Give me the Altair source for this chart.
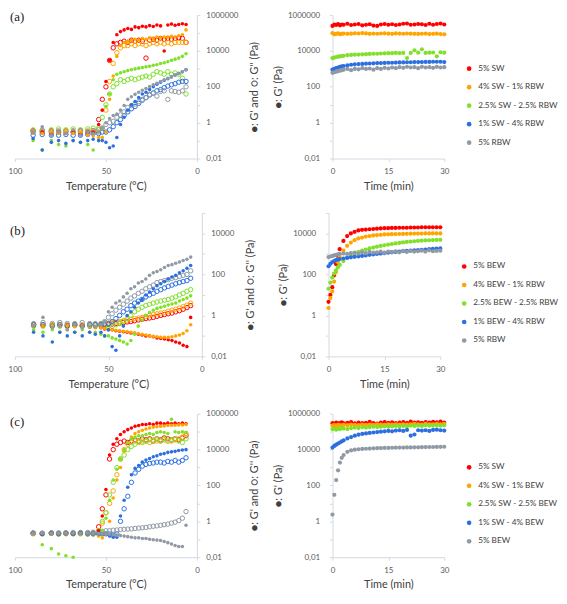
import altair as alt
import pandas as pd

# ---------------- shared grids ----------------
T_LEFT = [90, 85, 80, 76, 72, 68, 64, 60, 57, 54, 52, 50, 48, 46, 44, 42, 40, 38, 36,
          34, 32, 30, 28, 26, 24, 22, 20, 18, 16, 14, 12, 10, 8, 6]
TIME = [0, 0.5, 1, 1.5, 2, 2.5, 3, 4, 5, 6, 7, 8, 9, 10, 11, 12, 13, 14, 15, 16, 17, 18,
        19, 20, 21, 22, 23, 24, 25, 26, 27, 28, 29, 30]

COLORS = ["#ff0000", "#ffa500", "#80e02a", "#2c6fe0", "#8f9aa5"]
LAB_A = ["5% SW", "4% SW - 1% RBW", "2.5% SW - 2.5% RBW", "1% SW - 4% RBW", "5% RBW"]
LAB_B = ["5% BEW", "4% BEW - 1% RBW", "2.5% BEW - 2.5% RBW", "1% BEW - 4% RBW", "5% RBW"]
LAB_C = ["5% SW", "4% SW - 1% BEW", "2.5% SW - 2.5% BEW", "1% SW - 4% BEW", "5% BEW"]

# ---------------- panel (a), temperature sweep: G' (filled) and G'' (open), Pa ----------------
A_SW_G1 = [0.3, 0.3, 0.25, 0.3, 0.25, 0.3, 0.25, 0.3, 0.3,
           0.8, 5, 200, 3000, 3e4, 8e4, 1.2e5, 1.5e5, 1.8e5, 1.6e5, 2.2e5, 2e5, 2.4e5, 2.2e5,
           2.6e5, 2.3e5, 2.8e5, 2.5e5, 1e4, 2.8e5, 3.2e5, 2.7e5, 3e5, 3.3e5, 3e5]
A_SW_G2 = [0.35, 0.3, 0.35, 0.3, 0.35, 0.3, 0.35, 0.3, 0.35,
           1.5, 20, 100, 3000, 1.5e4, 2.5e4, 3e4, 3.5e4, 3e4, 4e4, 3.5e4, 4e4, 3.5e4, 4e3,
           4e4, 4.5e4, 4e4, 5e4, 4.5e4, 5e4, 4.5e4, 5e4, 5.5e4, 5e4, 3e4]
A_M1_G1 = [0.3, 0.25, 0.3, 0.25, 0.3, 0.25, 0.3, 0.2, 0.18,
           0.15, 0.15, 0.3, 20, 400, 5000, 2e4, 3e4, 3.5e4, 4e4, 4.5e4, 4e4, 5e4, 4.5e4,
           5.5e4, 5e4, 6e4, 5.5e4, 6e4, 6e4, 6.5e4, 6e4, 7e4, 8e4, 1.5e5]
A_M1_G2 = [0.3, 0.35, 0.3, 0.3, 0.35, 0.3, 0.3, 0.35, 0.3,
           0.3, 0.5, 5, 200, 2000, 8000, 1.5e4, 2e4, 2e4, 2.5e4, 2e4, 2.5e4, 2.5e4, 2e4,
           2.5e4, 3e4, 2.5e4, 3e4, 2.5e4, 3e4, 2.5e4, 3e4, 3e4, 3e4, 3e4]
A_M2_G1 = [0.1, 0.03, 0.1, 0.06, 0.05, 0.1, 0.08, 0.06, 0.03,
           0.1, 0.5, 8, 40, 250, 500, 600, 700, 800, 900, 1000, 1100, 1200, 1300, 1400,
           1600, 1700, 2000, 2200, 2500, 3000, 3500, 4000, 5000, 7000]
A_M2_G2 = [0.4, 0.4, 0.4, 0.45, 0.4, 0.45, 0.4, 0.45, 0.5,
           0.5, 2, 10, 40, 100, 150, 250, 200, 250, 300, 250, 300, 350, 400, 350, 500,
           700, 600, 500, 700, 500, 600, 500, 300, 40]
A_M3_G1 = [0.13, 0.03, 0.08, 0.1, 0.07, 0.1, 0.08, 0.1, 0.12,
           0.1, 0.1, 0.08, 0.04, 0.05, 0.15, 0.8, 2, 5, 10, 15, 25, 40, 50, 70, 100,
           140, 180, 230, 280, 350, 450, 550, 700, 900]
A_M3_G2 = [0.2, 0.22, 0.2, 0.2, 0.22, 0.2, 0.2, 0.22, 0.25,
           0.25, 0.3, 0.3, 0.4, 0.6, 1, 1.5, 2.5, 4, 6, 8, 12, 18, 25, 35, 45, 60, 70,
           90, 110, 130, 150, 180, 200, 200]
A_RB_G1 = [0.3, 0.6, 0.2, 0.3, 0.25, 0.4, 0.2, 0.3, 0.25,
           0.3, 0.5, 1, 1.7, 2.5, 3, 5, 9, 20, 28, 38, 50, 65, 80, 105, 130, 160, 200,
           250, 300, 370, 450, 550, 700, 900]
A_RB_G2 = [0.3, 0.35, 0.3, 0.35, 0.3, 0.3, 0.35, 0.3, 0.35,
           0.4, 0.5, 0.8, 1, 1.2, 2, 2.7, 4, 7, 9, 11, 15, 20, 25, 38, 45, 30, 55, 60,
           20, 60, 55, 50, 60, 100]

# ---------------- panel (b) ----------------
B_BE_G1 = [0.3, 0.3, 0.28, 0.3, 0.27, 0.3, 0.28, 0.27, 0.26,
           0.25, 0.22, 0.2, 0.2, 0.18, 0.17, 0.16, 0.15, 0.14, 0.13, 0.12, 0.11, 0.1,
           0.1, 0.09, 0.08, 0.075, 0.07, 0.065, 0.06, 0.05, 0.045, 0.035, 0.03, 0.8]
B_BE_G2 = [0.35, 0.35, 0.33, 0.35, 0.33, 0.35, 0.33, 0.35, 0.35,
           0.35, 0.36, 0.37, 0.38, 0.4, 0.42, 0.45, 0.48, 0.5, 0.55, 0.6, 0.65, 0.7,
           0.75, 0.8, 0.9, 1, 1.1, 1.2, 1.3, 1.5, 1.7, 2, 2.4, 3]
B_M1_G1 = [0.3, 0.3, 0.3, 0.28, 0.3, 0.28, 0.27, 0.27, 0.26,
           0.25, 0.23, 0.21, 0.2, 0.19, 0.18, 0.17, 0.16, 0.15, 0.14, 0.13, 0.12, 0.11,
           0.1, 0.095, 0.09, 0.085, 0.085, 0.085, 0.09, 0.1, 0.11, 0.13, 0.18, 0.35]
B_M1_G2 = [0.35, 0.36, 0.35, 0.36, 0.35, 0.36, 0.35, 0.36, 0.37,
           0.38, 0.4, 0.42, 0.44, 0.47, 0.5, 0.55, 0.6, 0.65, 0.7, 0.75, 0.8, 0.9, 1,
           1.1, 1.2, 1.3, 1.4, 1.6, 1.8, 2, 2.3, 2.7, 3.2, 4]
B_M2_G1 = [0.2, 0.15, 0.2, 0.15, 0.2, 0.15, 0.2, 0.15, 0.15,
           0.12, 0.1, 0.1, 0.08, 0.07, 0.06, 0.05, 0.04, 0.06, 0.12, 0.3, 0.6, 1, 1.4,
           1.8, 2.2, 2.5, 2.8, 3.2, 3.6, 4, 5, 6, 7, 9]
B_M2_G2 = [0.3, 0.3, 0.32, 0.3, 0.3, 0.32, 0.3, 0.3, 0.3,
           0.3, 0.3, 0.3, 0.3, 0.35, 0.4, 0.5, 0.7, 1, 1.5, 2, 2.5, 3, 3.5, 4, 4.5, 5,
           5.5, 6, 7, 8, 10, 12, 15, 18]
B_M3_G1 = [0.15, 0.1, 0.05, 0.15, 0.1, 0.15, 0.1, 0.15, 0.12,
           0.15, 0.1, 0.2, 0.03, 0.02, 0.1, 0.3, 1, 1.5, 2.5, 4, 6, 10, 14, 20, 28, 35,
           45, 60, 75, 90, 120, 150, 200, 270]
B_M3_G2 = [0.35, 0.35, 0.3, 0.35, 0.3, 0.35, 0.3, 0.35, 0.35,
           0.35, 0.38, 0.4, 0.5, 0.7, 1, 1.5, 2, 3, 4, 5, 6, 8, 10, 12, 15, 18, 22, 26,
           30, 35, 40, 45, 50, 65]
B_RB_G1 = [0.3, 0.8, 0.25, 0.3, 0.2, 0.35, 0.25, 0.3, 0.28,
           0.35, 0.5, 1.5, 2.5, 4, 5, 8, 12, 20, 25, 38, 45, 60, 90, 120, 140, 170, 220,
           270, 300, 350, 400, 480, 550, 700]
B_RB_G2 = [0.4, 0.45, 0.4, 0.45, 0.4, 0.4, 0.45, 0.4, 0.4,
           0.4, 0.5, 0.8, 1.2, 1.8, 2.5, 3.5, 5, 7, 9, 12, 15, 20, 25, 30, 40, 45, 50,
           55, 65, 70, 80, 90, 100, 150]

# ---------------- panel (c) ----------------
C_SW_G1 = [0.22, 0.2, 0.22, 0.21, 0.22, 0.2, 0.22, 0.21, 0.22,
           0.3, 2, 60, 5000, 2e4, 4e4, 7e4, 1e5, 1.3e5, 1.6e5, 2e5, 2.2e5, 2.5e5, 2.5e5,
           2.8e5, 2.5e5, 3e5, 3e5, 2.8e5, 3e5, 2.8e5, 3e5, 2.8e5, 3e5, 2.8e5]
C_SW_G2 = [0.22, 0.21, 0.22, 0.2, 0.22, 0.21, 0.22, 0.2, 0.22,
           0.5, 5, 30, 3000, 1e4, 2e4, 2.5e4, 3e4, 2.5e4, 3e4, 3.5e4, 3e4, 4e4, 3.5e4,
           4e4, 3e4, 4e4, 3.5e4, 4.5e4, 4e4, 3.5e4, 4e4, 3.5e4, 4.5e4, 6e4]
C_M1_G1 = [0.2, 0.21, 0.2, 0.2, 0.21, 0.2, 0.2, 0.19, 0.18,
           0.15, 0.12, 0.2, 1, 20, 200, 1000, 8000, 2.5e4, 5e4, 8e4, 1e5, 1.2e5, 1.4e5,
           1.6e5, 1.8e5, 1.9e5, 2e5, 2.1e5, 2.2e5, 2.3e5, 2.3e5, 2.4e5, 2.4e5, 2.5e5]
C_M1_G2 = [0.2, 0.2, 0.21, 0.2, 0.2, 0.21, 0.2, 0.2, 0.2,
           0.3, 0.8, 3, 10, 50, 400, 3000, 1e4, 2e4, 2.5e4, 3e4, 2.5e4, 3e4, 3e4, 2.5e4,
           3.5e4, 3e4, 3e4, 3.5e4, 3e4, 3e4, 3.5e4, 4e4, 5e4, 8e4]
C_M2_G1 = [0.22, 0.05, 0.03, 0.015, 0.012, 0.01, 0.2, 0.2, 0.2,
           0.2, 0.3, 1.5, 15, 200, 800, 3000, 1e4, 2.5e4, 4e4, 5e4, 6e4, 6e4, 7e4, 8e4,
           7e4, 9e4, 1e5, 9e4, 8e4, 5e5, 1e5, 9e4, 1e5, 9e4]
C_M2_G2 = [0.22, 0.2, 0.22, 0.2, 0.22, 0.2, 0.22, 0.2, 0.22,
           0.3, 1, 3, 30, 150, 1000, 3000, 5000, 1e4, 1.5e4, 2e4, 3e4, 2.5e4, 3e4, 3.5e4,
           3e4, 4e4, 3e4, 4e4, 3e4, 3.5e4, 4e4, 3e4, 2.5e4, 4e4]
C_M3_G1 = [0.22, 0.2, 0.22, 0.2, 0.21, 0.2, 0.22, 0.2, 0.2,
           0.2, 0.2, 0.2, 0.15, 0.13, 0.13, 2, 15, 80, 400, 900, 1300, 2000, 2600, 3200,
           4000, 4500, 5500, 6000, 7000, 7500, 8000, 9000, 9500, 1e4]
C_M3_G2 = [0.22, 0.21, 0.22, 0.21, 0.22, 0.21, 0.22, 0.21, 0.2,
           0.2, 0.2, 0.2, 0.2, 0.18, 0.2, 1, 5, 25, 150, 500, 800, 1200, 1500, 1700,
           1800, 2000, 2000, 1800, 2200, 2000, 2500, 2000, 2500, 3500]
C_BE_G1 = [0.22, 0.22, 0.22, 0.22, 0.22, 0.22, 0.22, 0.22, 0.22,
           0.21, 0.2, 0.2, 0.19, 0.18, 0.17, 0.16, 0.15, 0.14, 0.13, 0.12, 0.12, 0.11,
           0.11, 0.1, 0.095, 0.09, 0.085, 0.075, 0.065, 0.055, 0.045, 0.04, 0.04, 0.6]
C_BE_G2 = [0.22, 0.22, 0.23, 0.23, 0.23, 0.24, 0.24, 0.24, 0.25,
           0.27, 0.28, 0.3, 0.3, 0.32, 0.33, 0.35, 0.36, 0.37, 0.38, 0.4, 0.42, 0.44,
           0.46, 0.5, 0.53, 0.56, 0.6, 0.65, 0.7, 0.8, 0.9, 1.1, 1.5, 3.5]

# ---------------- time sweeps: G' (Pa) ----------------
TA_SW = [2.5e5, 3e5, 2.8e5, 3.2e5, 2.7e5, 3e5, 2.9e5, 3.3e5, 2.8e5, 3e5, 3.2e5, 2.7e5,
         2.9e5, 3.1e5, 2.6e5, 2.5e5, 3e5, 3.2e5, 2.9e5, 3.1e5, 2.8e5, 3e5, 3.3e5, 3.4e5,
         2.9e5, 3e5, 3.2e5, 3.1e5, 2.8e5, 3.3e5, 2.9e5, 3.2e5, 3.4e5, 3e5]
TA_M1 = [1e5, 8.5e4, 9e4, 9.5e4, 8.8e4, 9e4, 9.3e4, 9e4, 9.2e4, 9.6e4, 9.4e4, 1e5, 9.5e4,
         9e4, 9.3e4, 9.1e4, 9.4e4, 9.6e4, 9.2e4, 9e4, 9.5e4, 9.3e4, 9.1e4, 9.4e4, 9.2e4,
         9e4, 8.9e4, 9.1e4, 9.3e4, 8.8e4, 9e4, 9.2e4, 8.8e4, 8.5e4]
TA_M2 = [4000, 4300, 4600, 4800, 5000, 5200, 5400, 5800, 6000, 6200, 6300, 6500, 6600,
         6800, 7000, 7000, 7200, 7400, 7500, 7500, 7800, 7600, 7800, 4000, 7800, 1.1e4,
         8000, 1.25e4, 7800, 8000, 8200, 5000, 8500, 8000]
TA_M3 = [900, 1000, 1100, 1200, 1300, 1400, 1450, 1600, 1700, 1800, 1850, 1900, 1950,
         2000, 2050, 2100, 2100, 2150, 2200, 2200, 2250, 2300, 2300, 2350, 2350, 2400,
         2400, 2400, 2450, 2450, 2500, 2500, 2500, 2400]
TA_RB = [600, 650, 700, 750, 800, 850, 900, 1000, 850, 1000, 950, 1100, 1000, 1050, 900,
         1100, 1000, 1150, 1050, 1200, 1100, 1250, 1150, 1300, 1200, 1250, 1100, 1300,
         1200, 1250, 1150, 1300, 1200, 1250]

TB_BE = [4.6, 10, 24, 90, 320, 800, 1700, 4300, 7400, 1e4, 1.2e4, 1.4e4, 1.5e4, 1.55e4,
         1.6e4, 1.65e4, 1.7e4, 1.75e4, 1.8e4, 1.8e4, 1.85e4, 1.85e4, 1.9e4, 1.9e4, 1.9e4,
         1.95e4, 1.95e4, 1.95e4, 2e4, 2e4, 2e4, 2e4, 2e4, 2e4]
TB_M1 = [2.3, 7, 15, 45, 130, 400, 700, 1450, 2500, 3600, 4700, 5700, 6300, 7000, 7400,
         8000, 8300, 8600, 9000, 9100, 9200, 9300, 9400, 9500, 9600, 9700, 9800, 9800,
         9900, 1e4, 1e4, 1e4, 1e4, 1e4]
TB_M2 = [20, 40, 70, 110, 160, 220, 290, 450, 650, 850, 1050, 1250, 1450, 1650, 1850,
         2050, 2250, 2450, 2650, 2850, 3050, 3250, 3450, 3650, 3850, 4000, 4150, 4300,
         4450, 4550, 4650, 4750, 4850, 4900]
TB_M3 = [250, 330, 400, 450, 500, 530, 560, 600, 640, 680, 720, 760, 800, 850, 900, 950,
         1000, 1050, 1100, 1150, 1200, 1250, 1300, 1350, 1400, 1450, 1500, 1550, 1600,
         1650, 1700, 1750, 1800, 1850]
TB_RB = [700, 750, 800, 850, 900, 950, 1000, 1050, 1000, 1100, 1150, 1050, 1200, 1100,
         1250, 1150, 1200, 1300, 1150, 1300, 1250, 1350, 1200, 1400, 1250, 1400, 1300,
         1350, 1450, 1300, 1500, 1350, 1400, 1450]

TC_SW = [3e5, 2.7e5, 3.2e5, 2.8e5, 3e5, 3.3e5, 2.9e5, 3.1e5, 3.4e5, 2.9e5, 3.2e5, 3e5,
         3.1e5, 3.5e5, 3e5, 2.8e5, 3.2e5, 3.4e5, 3.1e5, 3.3e5, 3e5, 3.2e5, 3.4e5, 3.1e5,
         3.6e5, 3.2e5, 3.3e5, 3.1e5, 3.4e5, 3.2e5, 3.5e5, 3.3e5, 3.7e5, 3.2e5]
TC_M1 = [2.2e5, 2.3e5, 2.2e5, 2.4e5, 2.3e5, 2.2e5, 2.4e5, 2.3e5, 2.5e5, 2.4e5, 2.3e5,
         2.5e5, 2.4e5, 2.5e5, 2.4e5, 2.6e5, 2.5e5, 2.4e5, 2.6e5, 2.5e5, 2.6e5, 2.5e5,
         2.6e5, 2.5e5, 2.6e5, 2.7e5, 2.6e5, 2.5e5, 2.7e5, 2.6e5, 2.6e5, 2.7e5, 2.6e5, 2.7e5]
TC_M2 = [1.4e5, 1.5e5, 1.3e5, 1.5e5, 1.4e5, 1.6e5, 1.5e5, 1.4e5, 1.6e5, 1.7e5, 1.6e5,
         1.8e5, 1.7e5, 1.8e5, 1.9e5, 1.8e5, 1.9e5, 2e5, 1.9e5, 2e5, 2.1e5, 2e5, 2.1e5,
         2e5, 2.2e5, 2.1e5, 2.2e5, 2.1e5, 2.3e5, 2.2e5, 2.2e5, 2.3e5, 2.2e5, 2.3e5]
TC_M3 = [1.3e4, 1.6e4, 1.9e4, 2.2e4, 2.5e4, 2.9e4, 3.3e4, 4.2e4, 5e4, 6e4, 6.8e4, 7.5e4,
         8e4, 8.5e4, 9e4, 9.5e4, 1e5, 1.05e5, 1.1e5, 1.05e5, 1.15e5, 1.2e5, 1.1e5, 1.25e5,
         6e4, 7e4, 1.2e5, 1.15e5, 1.2e5, 1.1e5, 1.25e5, 1.3e5, 1.2e5, 1.15e5]
TC_BE = [2.4, 30, 200, 700, 1900, 3500, 5000, 7500, 9000, 1e4, 1.05e4, 1.1e4, 1.12e4,
         1.15e4, 1.18e4, 1.2e4, 1.22e4, 1.24e4, 1.25e4, 1.27e4, 1.28e4, 1.3e4, 1.3e4,
         1.32e4, 1.33e4, 1.35e4, 1.35e4, 1.37e4, 1.38e4, 1.4e4, 1.4e4, 1.42e4, 1.43e4, 1.45e4]

# ---------------- styling ----------------
FONT = "Lato"
AXC = "#d3d9e2"
LBL = "#595959"
TTL = "#404040"
H = 145
YEXPR = ("(round(log(datum.value)/LN10) % 2 == 0) ? "
         "(datum.value < 1 ? '0,01' : format(datum.value, 'd')) : ''")


def decades(ymax):
    return [v for v in [0.01, 0.1, 1, 10, 100, 1000, 10000, 100000, 1000000] if v <= ymax]


def common_axis(**kw):
    base = dict(grid=False, domainColor=AXC, tickColor=AXC, tickSize=3,
                labelColor=LBL, titleColor=TTL, labelFont=FONT, titleFont=FONT,
                labelFontSize=8, titleFontSize=11, titleFontWeight="normal")
    base.update(kw)
    return alt.Axis(**base)


def left_panel(labels, g1s, g2s, ymax, width, tag_text, tag_y):
    rows = []
    for lab, g1, g2 in zip(labels, g1s, g2s):
        for t, v in zip(T_LEFT, g2):
            rows.append({"T": t, "G": v, "s": lab, "k": "G2"})
        for t, v in zip(T_LEFT, g1):
            rows.append({"T": t, "G": v, "s": lab, "k": "G1"})
    df = pd.DataFrame(rows)
    x = alt.X("T:Q", scale=alt.Scale(domain=[0, 100], reverse=True, nice=False),
              axis=common_axis(values=[100, 50, 0], title="Temperature (°C)",
                               labelFlush=False, labelPadding=6, titlePadding=5))
    y = alt.Y("G:Q", scale=alt.Scale(type="log", domain=[0.01, ymax], nice=False),
              axis=common_axis(orient="right", values=decades(ymax), labelExpr=YEXPR,
                               title="●: G' and ○: G'' (Pa)", titleAngle=270,
                               titleBaseline="bottom", labelPadding=6, titlePadding=22))
    color = alt.Color("s:N", scale=alt.Scale(domain=labels, range=COLORS), legend=None)
    base = alt.Chart(df).encode(x=x, y=y, color=color)
    opn = base.transform_filter(alt.datum.k == "G2").mark_point(
        filled=False, size=20, strokeWidth=1, opacity=1)
    fil = base.transform_filter(alt.datum.k == "G1").mark_circle(size=13, opacity=1)
    tag = alt.Chart(pd.DataFrame({"lab": [tag_text]})).mark_text(
        align="left", baseline="middle", font="Liberation Serif", fontSize=13,
        color="#222222").encode(text="lab:N", x=alt.value(-5), y=alt.value(tag_y))
    return alt.layer(opn, fil, tag).properties(width=width, height=H)


def right_panel(labels, series, ymax, width, lx, ly):
    rows = []
    for lab, vals in zip(labels, series):
        for t, v in zip(TIME, vals):
            rows.append({"t": t, "G": v, "s": lab})
    df = pd.DataFrame(rows)
    return alt.Chart(df).mark_circle(size=18, opacity=1).encode(
        x=alt.X("t:Q", scale=alt.Scale(domain=[0, 30], nice=False),
                axis=common_axis(values=[0, 15, 30], title="Time (min)", labelFlush=False,
                                 labelPadding=6, titlePadding=5)),
        y=alt.Y("G:Q", scale=alt.Scale(type="log", domain=[0.01, ymax], nice=False),
                axis=common_axis(values=decades(ymax), labelExpr=YEXPR,
                                 title="●: G' (Pa)", labelPadding=10, titlePadding=4)),
        color=alt.Color("s:N", scale=alt.Scale(domain=labels, range=COLORS),
                        legend=alt.Legend(orient="none", legendX=lx, legendY=ly, title=None,
                                          labelFont=FONT, labelFontSize=8.3,
                                          labelColor=TTL, symbolType="circle",
                                          symbolSize=22, symbolStrokeWidth=0,
                                          rowPadding=9.7, labelOffset=5, padding=0)),
    ).properties(width=width, height=H)


row_a = alt.hconcat(
    left_panel(LAB_A, [A_SW_G1, A_M1_G1, A_M2_G1, A_M3_G1, A_RB_G1],
               [A_SW_G2, A_M1_G2, A_M2_G2, A_M3_G2, A_RB_G2], 1e6, 184, "(a)", 2),
    right_panel(LAB_A, [TA_SW, TA_M1, TA_M2, TA_M3, TA_RB], 1e6, 113, 134, 50),
    spacing=12).resolve_scale(color="independent")

row_b = alt.hconcat(
    left_panel(LAB_B, [B_BE_G1, B_M1_G1, B_M2_G1, B_M3_G1, B_RB_G1],
               [B_BE_G2, B_M1_G2, B_M2_G2, B_M3_G2, B_RB_G2], 1e5, 189, "(b)", 18),
    right_panel(LAB_B, [TB_BE, TB_M1, TB_M2, TB_M3, TB_RB], 1e5, 113, 133, 50),
    spacing=21).resolve_scale(color="independent")

row_c = alt.hconcat(
    left_panel(LAB_C, [C_SW_G1, C_M1_G1, C_M2_G1, C_M3_G1, C_BE_G1],
               [C_SW_G2, C_M1_G2, C_M2_G2, C_M3_G2, C_BE_G2], 1e6, 184, "(c)", 8),
    right_panel(LAB_C, [TC_SW, TC_M1, TC_M2, TC_M3, TC_BE], 1e6, 113, 134, 50),
    spacing=12).resolve_scale(color="independent")

chart = alt.vconcat(row_a, row_b, row_c, spacing=21).resolve_scale(
    color="independent").properties(padding=0).configure_view(stroke=None)

chart.save("out.html", embed_options={"renderer": "svg", "actions": False})
